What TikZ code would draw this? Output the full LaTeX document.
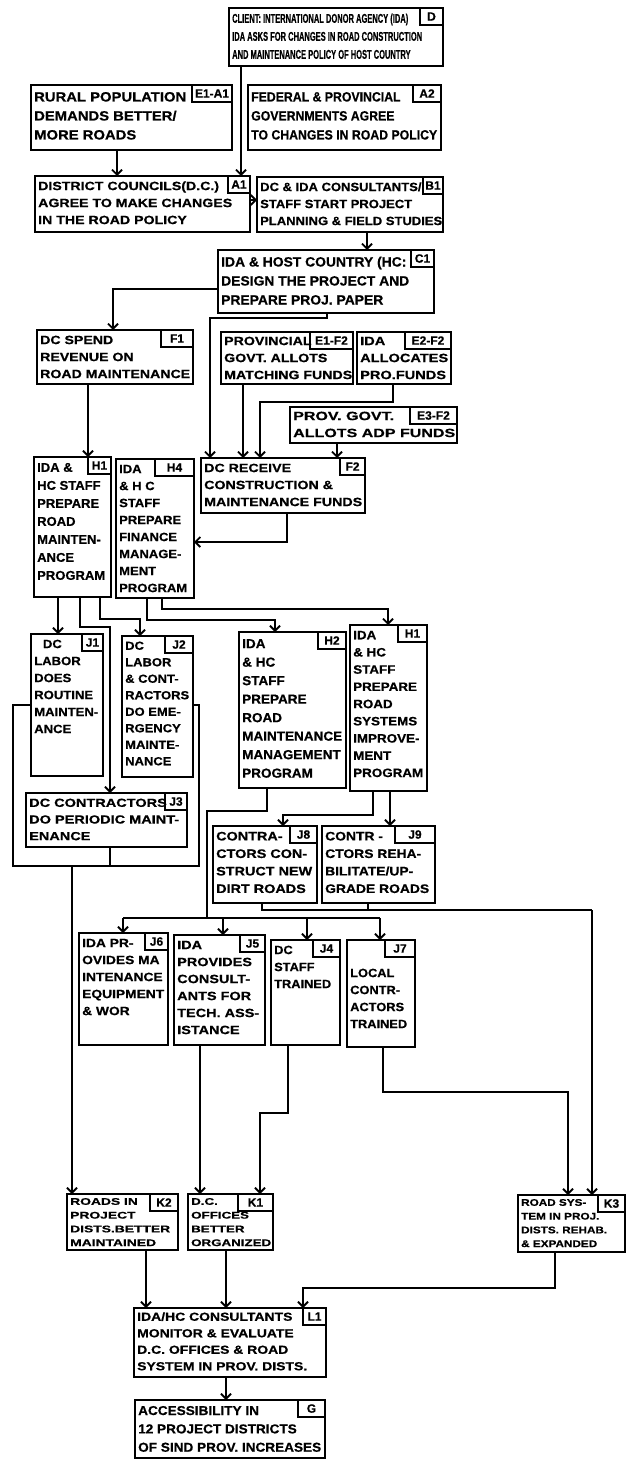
\documentclass[tikz,border=0pt]{standalone}
\usepackage{fontspec}
\usepackage{graphicx}
\setmainfont{Liberation Sans}[BoldFeatures={FakeBold=0.6}]
\usetikzlibrary{arrows.meta,calc}
\newcommand\btext[3]{\resizebox*{#1pt}{#2pt}{\fontsize{12}{17}\selectfont\bfseries\begin{tabular}{@{}l@{}}#3\end{tabular}}}
\newcommand\mkbox[5]{\node[box, minimum width=#4pt-#2pt, minimum height=#5pt-#3pt, anchor=north west] (#1) at (#2,#3) {};}
\newcommand\mktext[5]{\node[anchor=north west, inner sep=0pt] (#1t) at ($(#1.north west)+(3,#2)$) {\btext{#3}{#4}{#5}};}
\newcommand\mklabel[3]{\node[lbl, minimum width=#2pt, anchor=north east] (#1l) at (#1.north east) {#3};}
\begin{document}
\begin{tikzpicture}[x=1pt,y=-1pt,
  box/.style={draw, line width=1.8pt, inner sep=0pt, outer sep=0pt},
  lbl/.style={draw, line width=1.5pt, inner sep=1pt, outer sep=0pt, minimum height=17pt, font=\fontsize{12}{12}\selectfont\bfseries},
  line/.style={line width=1.8pt},
  arr/.style={line width=1.8pt, -{Straight Barb[length=5pt,width=10pt]}}]
\useasboundingbox[fill=white] (0,0) rectangle (626,1463);

% boxes
\mkbox{D}{229}{8}{443}{66}
\mkbox{E1A1}{31}{85}{232}{150}
\mkbox{A2}{248}{85}{441}{150}
\mkbox{A1}{35}{176}{250}{232}
\mkbox{B1}{257}{177}{443}{232}
\mkbox{C1}{218}{250}{434}{313}
\mkbox{F1}{37}{330}{193}{384}
\mkbox{E1F2}{221}{332}{353}{384}
\mkbox{E2F2}{357}{332}{451}{384}
\mkbox{E3F2}{290}{407}{457}{443}
\mkbox{F2}{201}{458}{365}{513}
\mkbox{H1a}{34}{457}{111}{597}
\mkbox{H4}{116}{459}{194}{598}
\mkbox{J1}{31}{634}{103}{776}
\mkbox{J2}{122}{636}{193}{777}
\mkbox{J3}{26}{793}{187}{847}
\mkbox{H2}{239}{632}{346}{788}
\mkbox{H1b}{350}{625}{427}{791}
\mkbox{J8}{213}{826}{317}{903}
\mkbox{J9}{322}{826}{435}{903}
\mkbox{J6}{79}{933}{168}{1045}
\mkbox{J5}{174}{935}{265}{1045}
\mkbox{J4}{271}{940}{340}{1045}
\mkbox{J7}{347}{940}{415}{1047}
\mkbox{K2}{67}{1194}{178}{1250}
\mkbox{K1}{188}{1194}{273}{1250}
\mkbox{K3}{518}{1195}{625}{1252}
\mkbox{L1}{134}{1308}{326}{1377}
\mkbox{G}{135}{1400}{325}{1458}

% labels
\mklabel{D}{23}{D}
\mklabel{E1A1}{40}{E1-A1}
\mklabel{A2}{28}{A2}
\mklabel{A1}{22}{A1}
\mklabel{B1}{20}{B1}
\mklabel{C1}{23}{C1}
\mklabel{F1}{32}{F1}
\mklabel{E1F2}{43}{E1-F2}
\mklabel{E2F2}{46}{E2-F2}
\mklabel{E3F2}{47}{E3-F2}
\mklabel{F2}{25}{F2}
\mklabel{H1a}{23}{H1}
\mklabel{H4}{39}{H4}
\mklabel{J1}{21}{J1}
\mklabel{J2}{28}{J2}
\mklabel{J3}{22}{J3}
\mklabel{H2}{28}{H2}
\mklabel{H1b}{29}{H1}
\mklabel{J8}{27}{J8}
\mklabel{J9}{40}{J9}
\mklabel{J6}{23}{J6}
\mklabel{J5}{25}{J5}
\mklabel{J4}{27}{J4}
\mklabel{J7}{30}{J7}
\mklabel{K2}{28}{K2}
\mklabel{K1}{35}{K1}
\mklabel{K3}{27}{K3}
\mklabel{L1}{23}{L1}
\mklabel{G}{27}{G}

% texts
\mktext{D}{2}{190}{54}{CLIENT: INTERNATIONAL DONOR AGENCY (IDA)\\IDA ASKS FOR CHANGES IN ROAD CONSTRUCTION\\AND MAINTENANCE POLICY OF HOST COUNTRY}
\mktext{E1A1}{3}{152}{57}{RURAL POPULATION\\DEMANDS BETTER/\\MORE ROADS}
\mktext{A2}{3}{186}{57}{FEDERAL \& PROVINCIAL\\GOVERNMENTS AGREE\\TO CHANGES IN ROAD POLICY}
\mktext{A1}{2}{194}{51}{DISTRICT COUNCILS(D.C.)\\AGREE TO MAKE CHANGES\\IN THE ROAD POLICY}
\mktext{B1}{2}{182}{51}{DC \& IDA CONSULTANTS/\\STAFF START PROJECT\\PLANNING \& FIELD STUDIES}
\mktext{C1}{3}{188}{57}{IDA \& HOST COUNTRY (HC:\\DESIGN THE PROJECT AND\\PREPARE PROJ. PAPER}
\mktext{F1}{2}{150}{51}{DC SPEND\\REVENUE ON\\ROAD MAINTENANCE}
\mktext{E1F2}{1}{128}{51}{PROVINCIAL\\GOVT. ALLOTS\\MATCHING FUNDS}
\mktext{E2F2}{1}{88}{51}{IDA\\ALLOCATES\\PRO.FUNDS}
\mktext{E3F2}{1}{162}{34}{PROV. GOVT.\\ALLOTS ADP FUNDS}
\mktext{F2}{2}{158}{51}{DC RECEIVE\\CONSTRUCTION \&\\MAINTENANCE FUNDS}
\mktext{H1a}{2}{68}{126}{IDA \&\\HC STAFF\\PREPARE\\ROAD\\MAINTEN-\\ANCE\\PROGRAM}
\mktext{H4}{2}{68}{136}{IDA\\\& H C\\STAFF\\PREPARE\\FINANCE\\MANAGE-\\MENT\\PROGRAM}
\mktext{J1}{2}{64}{102}{\hspace{8pt}DC\\LABOR\\DOES\\ROUTINE\\MAINTEN-\\ANCE}
\mktext{J2}{2}{64}{132}{DC\\LABOR\\\& CONT-\\RACTORS\\DO EME-\\RGENCY\\MAINTE-\\NANCE}
\mktext{J3}{2}{150}{50}{DC CONTRACTORS\\DO PERIODIC MAINT-\\ENANCE}
\mktext{H2}{3}{100}{148}{IDA\\\& HC\\STAFF\\PREPARE\\ROAD\\MAINTENANCE\\MANAGEMENT\\PROGRAM}
\mktext{H1b}{2}{70}{155}{IDA\\\& HC\\STAFF\\PREPARE\\ROAD\\SYSTEMS\\IMPROVE-\\MENT\\PROGRAM}
\mktext{J8}{2}{96}{70}{CONTRA-\\CTORS CON-\\STRUCT NEW\\DIRT ROADS}
\mktext{J9}{2}{104}{70}{CONTR -\\CTORS REHA-\\BILITATE/UP-\\GRADE ROADS}
\mktext{J6}{2}{82}{85}{IDA PR-\\OVIDES MA\\INTENANCE\\EQUIPMENT\\\& WOR}
\mktext{J5}{2}{82}{102}{IDA\\PROVIDES\\CONSULT-\\ANTS FOR\\TECH. ASS-\\ISTANCE}
\mktext{J4}{2}{57}{51}{DC\\STAFF\\TRAINED}
\mktext{J7}{25}{57}{68}{LOCAL\\CONTR-\\ACTORS\\TRAINED}
\mktext{K2}{1}{100}{55}{ROADS IN\\PROJECT\\DISTS.BETTER\\MAINTAINED}
\mktext{K1}{1}{80}{55}{D.C.\\OFFICES\\BETTER\\ORGANIZED}
\mktext{K3}{1}{86}{55}{ROAD SYS-\\TEM IN PROJ.\\DISTS. REHAB.\\\& EXPANDED}
\mktext{L1}{1}{170}{66}{IDA/HC CONSULTANTS\\MONITOR \& EVALUATE\\D.C. OFFICES \& ROAD\\SYSTEM IN PROV. DISTS.}
\mktext{G}{2}{183}{55}{ACCESSIBILITY IN\\12 PROJECT DISTRICTS\\OF SIND PROV. INCREASES}

% bus coordinates
\coordinate (busJ) at (207,918);
\coordinate (busK2) at (72,866);
\coordinate (busK3) at (592,910);

% connectors
\draw[arr] (D.south -| 241,0) -- (A1.north -| 241,0);
\draw[arr] (E1A1.south -| 117,0) -- (A1.north -| 117,0);
\draw[arr] (A1.east |- 0,200) -- (B1.west |- 0,200);
\draw[arr] (B1.south -| 367,0) -- (C1.north -| 367,0);
\draw[arr] (C1.west |- 0,289) -| (F1.north -| 113,0);
\draw[arr] (C1.south -| 327,0) |- (210,318) -- (F2.north -| 210,0);
\draw[arr] (F1.south -| 88,0) -- (H1a.north -| 88,0);
\draw[arr] (E1F2.south -| 243,0) -- (F2.north -| 243,0);
\draw[arr] (E2F2.south -| 393,0) |- (260,402) -- (F2.north -| 260,0);
\draw[arr] (E3F2.south -| 337,0) -- (F2.north -| 337,0);
\draw[arr] (F2.south -| 287,0) |- (H4.east |- 0,542);
\draw[arr] (H1a.south -| 58,0) -- (J1.north -| 58,0);
\draw[arr] (H1a.south -| 80,0) |- (110,627) -- (J3.north -| 110,0);
\draw[arr] (H1a.south -| 100,0) |- (140,619) -- (J2.north -| 140,0);
\draw[arr] (H4.south -| 147,0) |- (275,620) -- (H2.north -| 275,0);
\draw[arr] (H4.south -| 162,0) |- (388,609) -- (H1b.north -| 388,0);

\draw[line] (H2.south -| 267,0) |- (207,811) -- (busJ);
\draw[line] (123,918) -- (380,918);
\draw[arr] (123,918) -- (J6.north -| 123,0);
\draw[arr] (223,918) -- (J5.north -| 223,0);
\draw[arr] (307,918) -- (J4.north -| 307,0);
\draw[arr] (380,918) -- (J7.north -| 380,0);

\draw[arr] (H1b.south -| 373,0) |- (283,815) -- (J8.north -| 283,0);
\draw[arr] (H1b.south -| 390,0) -- (J9.north -| 390,0);
\draw[line] (J8.south -| 262,0) |- (busK3);
\draw[line] (J9.south -| 368,0) -- (368,910);
\draw[arr] (busK3) -- (K3.north -| busK3);

\draw[line] (J1.west |- 0,705) -| (13,866) -| (199,705) -- (J2.east |- 0,705);
\draw[line] (J3.south -| 110,0) -- (110,866);
\draw[arr] (busK2) -- (K2.north -| busK2);

\draw[arr] (J5.south -| 200,0) -- (K1.north -| 200,0);
\draw[arr] (J4.south -| 288,0) |- (260,1113) -- (K1.north -| 260,0);
\draw[arr] (J7.south -| 383,0) |- (568,1092) -- (K3.north -| 568,0);
\draw[arr] (K2.south -| 146,0) -- (L1.north -| 146,0);
\draw[arr] (K1.south -| 226,0) -- (L1.north -| 226,0);
\draw[arr] (K3.south -| 555,0) |- (303,1288) -- (L1.north -| 303,0);
\draw[arr] (L1.south -| 226,0) -- (G.north -| 226,0);
\end{tikzpicture}
\end{document}
